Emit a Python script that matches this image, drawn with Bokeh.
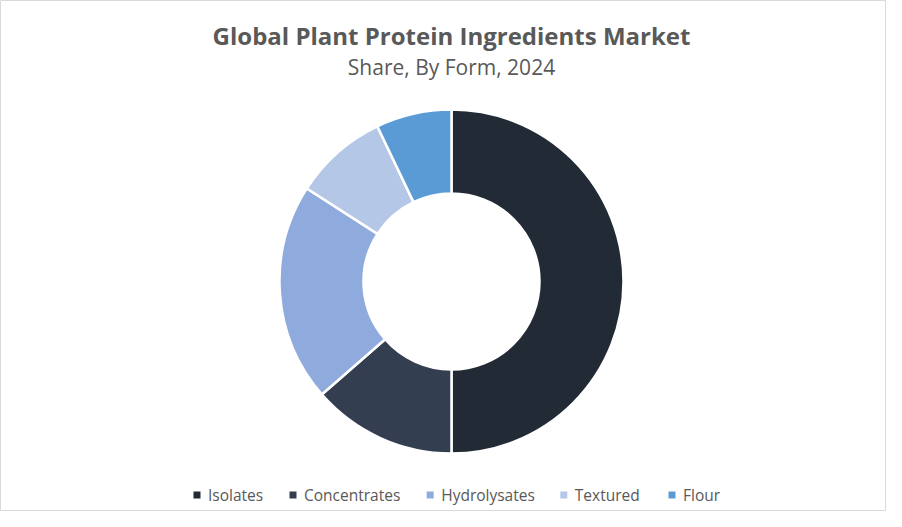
import math
from bokeh.plotting import figure
from bokeh.models import ColumnDataSource
from bokeh.core.properties import value
from bokeh.embed import file_html
from bokeh.resources import INLINE

title = "Global Plant Protein Ingredients Market"
subtitle = "Share, By Form, 2024"
categories = ["Isolates", "Concentrates", "Hydrolysates", "Textured", "Flour"]
shares = [50.0, 13.6, 20.5, 8.8, 7.1]
colors = ["#222a35", "#333f50", "#8faadc", "#b4c7e7", "#5b9bd5"]

# layout (screen units)
W, H = 886, 511
cx, cy = 451, 230
r_out, r_in = 172, 88
legend_y = 16.5
legend_x = [196.5, 292.5, 429.7, 563.3, 671.5]

total = sum(shares)
starts, ends = [], []
acc = 0.0
for s in shares:
    a0 = acc / total
    acc += s
    a1 = acc / total
    starts.append(math.pi / 2 - a1 * 2 * math.pi)
    ends.append(math.pi / 2 - a0 * 2 * math.pi)

src = ColumnDataSource(dict(cat=categories, val=shares, color=colors,
                            start=starts, end=ends,
                            x=[cx] * len(shares), y=[cy] * len(shares)))

p = figure(width=W, height=H, x_range=(0, W), y_range=(0, H),
           output_backend="svg", toolbar_location=None,
           min_border=0, min_border_left=0, min_border_right=0,
           min_border_top=0, min_border_bottom=0)
p.axis.visible = False
p.grid.visible = False
p.outline_line_color = "#d9d9d9"
p.outline_line_width = 1
p.background_fill_color = "white"
p.border_fill_color = "white"

p.annular_wedge(x="x", y="y", inner_radius=r_in, outer_radius=r_out,
                start_angle="start", end_angle="end", direction="anticlock",
                fill_color="color", line_color="white", line_width=2.5, source=src)

p.text(x=[cx], y=[476], text=[title], text_font=value("Open Sans"),
       text_font_size="24px", text_font_style="bold", text_color="#595959",
       text_align="center", text_baseline="middle")
p.text(x=[cx], y=[445], text=[subtitle], text_font=value("Open Sans"),
       text_font_size="21px", text_color="#595959",
       text_align="center", text_baseline="middle")

leg = ColumnDataSource(dict(x=legend_x, y=[legend_y] * len(categories),
                            tx=[v + 11 for v in legend_x],
                            label=categories, color=colors))
p.rect(x="x", y="y", width=7, height=7, fill_color="color", line_color=None, source=leg)
p.text(x="tx", y="y", text="label", text_font=value("Open Sans"),
       text_font_size="15.5px", text_color="#595959",
       text_align="left", text_baseline="middle", source=leg)

open("out.html", "w").write(file_html(p, INLINE))
